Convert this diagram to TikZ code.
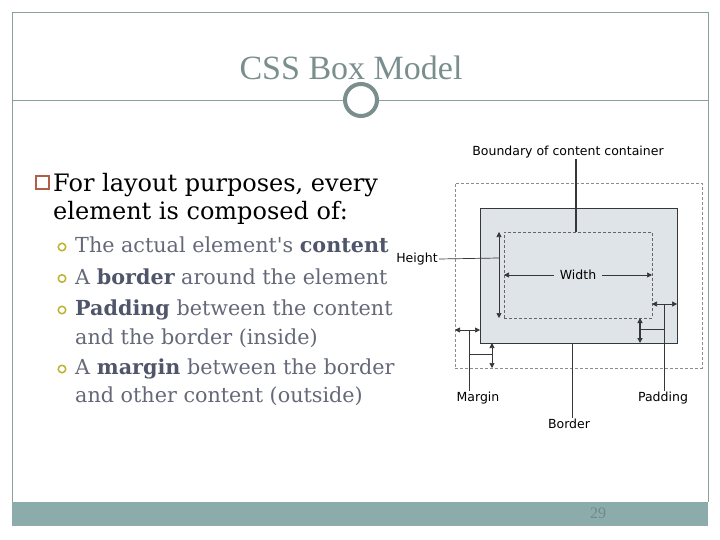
\documentclass[tikz,border=0pt]{standalone}
\usepackage{fontspec}
\setmainfont{DejaVu Serif}
\newfontfamily\titlefont{Liberation Serif}
\newfontfamily\diagfont{DejaVu Sans}
\usetikzlibrary{arrows.meta,positioning}
\definecolor{frameGray}{RGB}{138,160,160}
\definecolor{barTeal}{RGB}{140,172,172}
\definecolor{titleGray}{RGB}{122,142,142}
\definecolor{bulletRed}{RGB}{176,96,72}
\definecolor{bulletOlive}{RGB}{190,178,50}
\definecolor{subText}{RGB}{100,104,120}
\definecolor{subBold}{RGB}{80,86,106}
\definecolor{boxFill}{RGB}{222,228,231}
\definecolor{lineDark}{RGB}{55,55,55}

\begin{document}
\begin{tikzpicture}[x=1pt,y=-1pt,
    lbl/.style={font=\diagfont\fontsize{12.5}{14}\selectfont,inner sep=1pt},
    dim/.style={draw=lineDark,line width=0.7pt},
    dimarrow/.style={dim,{Triangle[length=5pt,width=5pt]}-{Triangle[length=5pt,width=5pt]}},
    mainitem/.style={anchor=base west,font=\fontsize{24}{28}\selectfont,inner sep=0pt},
    subitem/.style={anchor=base west,font=\fontsize{20.7}{24}\selectfont,text=subText,inner sep=0pt},
    subbullet/.style={circle,draw=bulletOlive,line width=1.5pt,minimum size=7.5pt,inner sep=0pt}]
    \useasboundingbox (0,0) rectangle (720,540);

    % slide frame
    \coordinate (fbl) at (12,502);
    \coordinate (ftl) at (12,12);
    \coordinate (ftr) at (708,12);
    \coordinate (fbr) at (708,502);
    \draw[frameGray,line width=0.8pt] (fbl) -- (ftl) -- (ftr) -- (fbr);
    \fill[barTeal] (fbl) rectangle (708,526);
    \node[font=\titlefont\fontsize{16}{18}\selectfont,text=barTeal!80!black] (pagenum) at (598,513) {29};

    % title with ring
    \node[font=\titlefont\fontsize{34}{40}\selectfont,text=titleGray] (title) at (351,68) {CSS Box Model};
    \node[circle,draw=titleGray,line width=4pt,minimum size=32pt] (ring) at (361,100) {};
    \coordinate (rl) at (12,100);
    \coordinate (rr) at (708,100);
    \draw[frameGray,line width=0.8pt] (rl) -- (ring.west);
    \draw[frameGray,line width=0.8pt] (ring.east) -- (rr);

    % bullet text
    \node[draw=bulletRed,line width=1.6pt,minimum size=13.5pt,inner sep=0pt] (sq) at (42.5,182.5) {};
    \node[mainitem] (item1) at (53,191.5) {For layout purposes, every};
    \node[mainitem] (item1b) at (53,220) {element is composed of:};
    \node[subitem] (sub1) at (75,252.5) {The actual element\textquotesingle s \textbf{\color{subBold}content}};
    \node[subitem] (sub2) at (75,284) {A \textbf{\color{subBold}border} around the element};
    \node[subitem] (sub3) at (75,315.5) {\textbf{\color{subBold}Padding} between the content};
    \node[subitem] (sub3b) at (75,344.5) {and the border (inside)};
    \node[subitem] (sub4) at (75,374.5) {A \textbf{\color{subBold}margin} between the border};
    \node[subitem] (sub4b) at (75,402.5) {and other content (outside)};
    \foreach \s in {sub1,sub2,sub3,sub4}
        \node[subbullet] at ([xshift=-13pt,yshift=5.5pt]\s.base west) {};

    % box model diagram
    \node[draw=gray!90,dash pattern=on 3pt off 2pt,anchor=north west,outer sep=0pt,
          minimum width=247pt,minimum height=185pt] (margbox) at (455,183) {};
    \node[draw=lineDark,fill=boxFill,anchor=north west,outer sep=0pt,
          minimum width=197pt,minimum height=135pt] (bordbox) at (480,208) {};
    \node[draw=gray!80!black,dash pattern=on 3pt off 2pt,anchor=north west,outer sep=0pt,
          minimum width=148pt,minimum height=86pt] (contbox) at (504,232) {};

    \node[lbl] (boundary) at (568,152) {Boundary of content container};
    \node[lbl] (height) at (417,259) {Height};
    \node[lbl,fill=boxFill,inner xsep=6pt] (width) at (578,275) {Width};
    \node[lbl] (margin) at (478,398) {Margin};
    \node[lbl] (padding) at (663,398) {Padding};
    \node[lbl] (border) at (569,424) {Border};

    \coordinate (bndx) at (576,232);
    \coordinate (hgt) at (499,258);
    \coordinate (padh) at (664,304);
    \coordinate (padv) at (640,329);
    \coordinate (margh) at (469,330);
    \coordinate (margv) at (492,354);
    \coordinate (bordx) at (572,343);

    \draw[dim,line width=1.1pt] (bndx |- boundary.south) -- (bndx);
    \draw[dimarrow] (contbox.north -| hgt) -- (contbox.south -| hgt);
    \draw[dim] (height.east) -- (hgt);
    \draw[dim,-{Triangle[length=5pt,width=5pt]}] (width.west) -- (contbox.west |- width);
    \draw[dim,-{Triangle[length=5pt,width=5pt]}] (width.east) -- (contbox.east |- width);
    \draw[dimarrow] (contbox.east |- padh) -- (bordbox.east |- padh);
    \draw[dim] (padh |- padding.north) -- (padh);
    \draw[dimarrow,line width=1.3pt] (contbox.south -| padv) -- (bordbox.south -| padv);
    \draw[dim] (padv) -- (padv -| padh);
    \draw[dimarrow] (margbox.west |- margh) -- (bordbox.west |- margh);
    \draw[dim] (margh |- margin.north) -- (margh);
    \draw[dimarrow] (bordbox.south -| margv) -- (margbox.south -| margv);
    \draw[dim] (margv -| margh) -- (margv);
    \draw[dim] (bordx) -- (bordx |- border.north);
\end{tikzpicture}
\end{document}
